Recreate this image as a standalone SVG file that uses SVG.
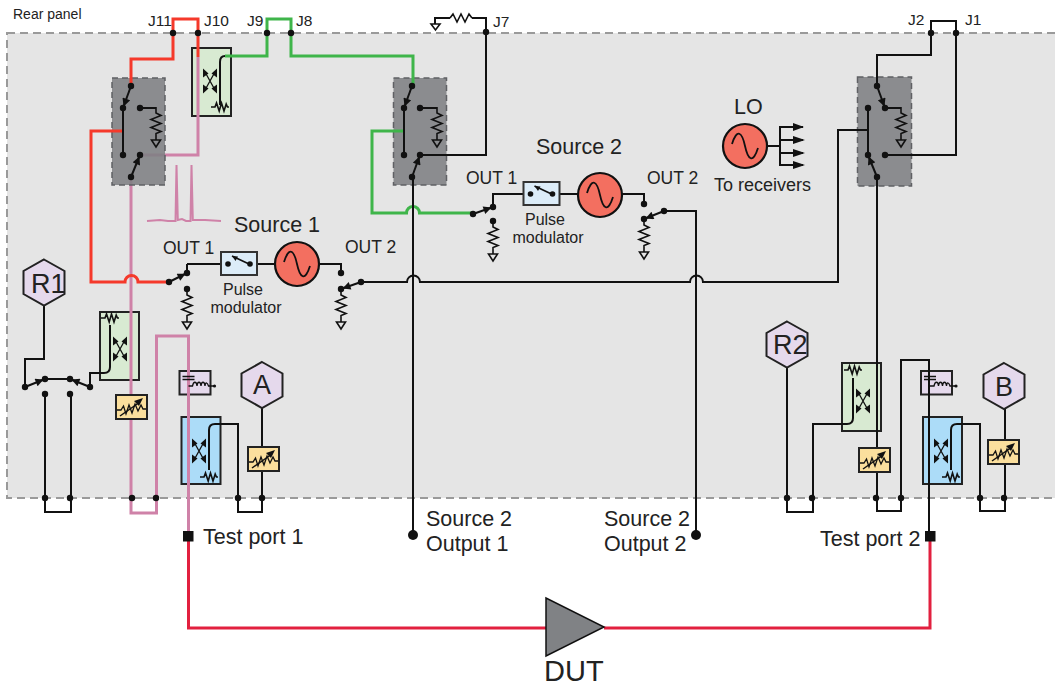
<svg xmlns="http://www.w3.org/2000/svg" width="1055" height="688" viewBox="0 0 1055 688">
<style>
text{font-family:"Liberation Sans",Arial,sans-serif;fill:#222}
.k,.r,.p,.g,.d{fill:none;stroke-linejoin:miter}
.k{stroke:#111;stroke-width:2}
.r{stroke:#f5392b;stroke-width:3}
.p{stroke:#cf82a8;stroke-width:3}
.g{stroke:#3fb54a;stroke-width:3}
.d{stroke:#e2203f;stroke-width:3}
.t{fill:none;stroke:#111;stroke-width:1.6}
.sw{fill:#7e7f83;fill-opacity:.88;stroke:#5f6064;stroke-width:1.5;stroke-dasharray:6 4}
.box{stroke:#222;stroke-width:2}
.hex{fill:#e5d9ec;stroke:#222;stroke-width:2}
.lab{font-size:17.5px}
.j{font-size:15.5px}
.big{font-size:21.5px}
.pm{font-size:16px;text-anchor:middle}
.port{font-size:21.5px}
.rx{font-size:27px}
</style>
<defs>
<circle id="dot" r="3.2" fill="#111"/>
<marker id="ah" viewBox="0 0 10 10" refX="12" refY="5" markerWidth="9" markerHeight="8" markerUnits="userSpaceOnUse" orient="auto"><path d="M0 0L10 5L0 10Z" fill="#111"/></marker>
<g id="resgnd"><path class="t" d="M0 0V6L5 8.500L-5 12.500L5 16.500L-5 20.500L5 24.500L0 26.500V33"/><path d="M-4.500 33H4.500L0 40Z" fill="none" stroke="#111" stroke-width="1.600"/></g>
<path id="resh" class="t" d="M-9 0H-5L-3.500 -4L-.8 4L1.500 -4L4 4L6.200 -3L7.500 0H9"/>
<g id="xc"><path d="M-5 -9L5 9M5 -9L-5 9" fill="none" stroke="#111" stroke-width="1.300"/><path d="M-7 -12.500L-1.500 -7.500L-7 -3.500ZM7 -12.500L1.500 -7.500L7 -3.500ZM-7 12.500L-1.500 7.500L-7 3.500ZM7 12.500L1.500 7.500L7 3.500Z" fill="#111"/></g>
<g id="src"><circle r="22" fill="#f36f60" stroke="#111" stroke-width="2.200"/><path d="M-13 -2C-8 -18 -3 -14 0 0S8 18 13 2" fill="none" stroke="#111" stroke-width="1.800"/></g>
<g id="atn"><rect width="31" height="24" fill="#fbdf9d" class="box"/><path d="M1 15H5L7.500 11L10 19L13 10L16 18L19 9L22 16L25 10L27 14H30" fill="none" stroke="#111" stroke-width="1.300"/><path d="M4 21L24 7" fill="none" stroke="#111" stroke-width="1.500"/><path d="M27 3L23 11L18 6Z" fill="#111"/></g>
<rect id="teebox" width="31" height="23.500" fill="#e5d9ec" class="box"/>
<g id="teeg"><path d="M3 5.500H15M3 8.500H15" fill="none" stroke="#111" stroke-width="1.500"/><path d="M9 15H13C14 10 17 10 17.500 15C18 10 21 10 21.500 15C22 10 25 10 25.500 15C26 10 28 12 29 15H35" fill="none" stroke="#111" stroke-width="1.300"/><circle cx="35" cy="15" r="1.600" fill="#111"/></g>
<g id="pmod"><rect width="36" height="23" fill="#dcecf8" stroke="#333" stroke-width="2"/><path d="M28 12L11 4" fill="none" stroke="#111" stroke-width="1.600"/><path d="M11 4L17 4.500L14.500 9Z" fill="#111"/><circle cx="7" cy="12" r="2.800" fill="#111"/><circle cx="29" cy="12" r="2.800" fill="#111"/></g>
<polygon id="hexs" class="hex" points="0,-23 20.500,-11.500 20.500,11.500 0,23 -20.500,11.500 -20.500,-11.500"/>
</defs>

<rect id="panel" x="7" y="33" width="1070" height="465" fill="#e5e5e5" stroke="#9a9a9a" stroke-width="2" stroke-dasharray="8 5"/>

<g id="couplers">
<g id="coupler-j10"><rect x="192" y="48" width="39" height="68" fill="#d8ead2" class="box"/><use href="#xc" x="210" y="81"/><use href="#resh" x="220" y="107"/></g>
<g id="coupler-r1"><rect x="100" y="312" width="39" height="68" fill="#d8ead2" class="box"/><use href="#xc" x="120" y="349"/><use href="#resh" x="110" y="318"/></g>
<g id="coupler-a"><rect x="181.500" y="417" width="39" height="67" fill="#acdcf8" class="box"/><use href="#xc" x="199" y="451"/><use href="#resh" x="209" y="477"/></g>
<g id="coupler-r2"><rect x="842" y="363" width="39" height="68" fill="#d8ead2" class="box"/><use href="#xc" x="863" y="401"/><use href="#resh" x="853" y="370"/></g>
<g id="coupler-b"><rect x="923" y="417" width="39" height="67" fill="#acdcf8" class="box"/><use href="#xc" x="941" y="451"/><use href="#resh" x="951" y="477"/></g>
</g>
<g id="bias-tee-boxes"><use href="#teebox" x="179.500" y="371"/><use href="#teebox" x="921" y="371"/></g>

<g id="connectors-under">
<path class="p" d="M198 57V155H140"/>
<path class="p" d="M131 177V513H156.500V336H188.500V536"/>
</g>

<g id="switch-boxes">
<rect id="switch-box-1" class="sw" x="112" y="78" width="53" height="107"/>
<rect id="switch-box-2" class="sw" x="393.500" y="78" width="53" height="107"/>
<rect id="switch-box-3" class="sw" x="857.500" y="77" width="54" height="109"/>
</g>

<g id="connectors">
<path class="r" d="M173 33V19H198V57"/>
<path class="r" d="M173 33V59H131V86"/>
<path class="r" d="M123 131H91V282H125a6.500 6.500 0 0 1 13 0H168"/>
<path class="g" d="M267 33V19H291V56H413V86"/>
<path class="g" d="M267 33V56H225"/>
<path class="g" d="M403 131H372V213H406.500a6.500 6.500 0 0 1 13 0H473"/>
<path class="k" d="M225 56Q220 56 220 62V105" stroke-width="1.800"/>
<path class="k" d="M110 325V367Q110 373 104 373H90V387" stroke-width="1.800"/>
<path class="k" d="M44 306V359H25V387"/>
<path class="k" d="M45 379H70"/>
<path class="k" d="M45 394V512H71V394"/>
<path class="k" d="M262 408V512H238V424H215Q209 424 209 430V470" stroke-width="1.800"/>
<path class="k" d="M486 32V155H420"/>
<path class="k" d="M486 32V18H472M450 18H435V24"/>
<path class="k" d="M413 177V535"/>
<path class="k" d="M187 264V273M187 264H221M257 264H275M319 264H341V273"/>
<path class="k" d="M493 207V194H523M560 194H578M622 194H644V204"/>
<path class="k" d="M664 211H696V535"/>
<path class="k" d="M360 282H407a6.500 6.500 0 0 1 13 0H690a6.500 6.500 0 0 1 13 0H838V130H868"/>
<path class="k" d="M931 33V21H956V155H885"/>
<path class="k" d="M931 33V55H877V86"/>
<path class="k" d="M877 177V511H901V360H929V536"/>
<path class="k" d="M787 367V512H813V424H847Q853 424 853 418V378"/>
<path class="k" d="M951 470V430Q951 424 957 424H980V511H1005V409"/>
<path class="k" d="M768 146H780M803 127H780V165H803M780 140H803M780 153H803"/>
<path class="d" d="M188.500 541V628H546M930 541V628H604"/>
<path d="M147 221L160 220L168 221H175.500L176.500 165L177.800 220L182 219L186 221H190.500L191.500 165L192.800 220H205L221 221" fill="none" stroke="#cf82a8" stroke-width="2"/>
</g>

<g id="switches">
<g id="switch-1"><path class="k" d="M131 86L123 108" marker-end="url(#ah)"/><path class="k" d="M123 108V155M140 108H156"/><use href="#resgnd" x="156" y="107"/><path class="k" d="M131 177L140 155" marker-end="url(#ah)"/><use href="#dot" x="131" y="86"/><use href="#dot" x="123" y="108"/><use href="#dot" x="140" y="108"/><use href="#dot" x="123" y="155"/><use href="#dot" x="140" y="155"/><use href="#dot" x="131" y="177"/></g>
<g id="switch-2"><path class="k" d="M412 86L404 108" marker-end="url(#ah)"/><path class="k" d="M404 108V155M420 108H437"/><use href="#resgnd" x="437" y="107"/><path class="k" d="M412 177L420 155" marker-end="url(#ah)"/><use href="#dot" x="412" y="86"/><use href="#dot" x="404" y="108"/><use href="#dot" x="420" y="108"/><use href="#dot" x="404" y="155"/><use href="#dot" x="420" y="155"/><use href="#dot" x="412" y="177"/></g>
<g id="switch-3"><path class="k" d="M877 86L885 108" marker-end="url(#ah)"/><path class="k" d="M868 108V155M885 108H901"/><use href="#resgnd" x="901" y="107"/><path class="k" d="M877 177L868 155" marker-end="url(#ah)"/><use href="#dot" x="877" y="86"/><use href="#dot" x="868" y="108"/><use href="#dot" x="885" y="108"/><use href="#dot" x="868" y="155"/><use href="#dot" x="885" y="155"/><use href="#dot" x="877" y="177"/></g>
<g id="switch-s1-out1"><path class="k" d="M169 282L187 273" marker-end="url(#ah)"/><use href="#dot" x="169" y="282"/><use href="#dot" x="187" y="273"/><use href="#dot" x="187" y="289"/><use href="#resgnd" x="187" y="289"/></g>
<g id="switch-s1-out2"><path class="k" d="M361 282L341 289" marker-end="url(#ah)"/><use href="#dot" x="341" y="273"/><use href="#dot" x="341" y="289"/><use href="#dot" x="361" y="282"/><use href="#resgnd" x="341" y="289"/></g>
<g id="switch-s2-out1"><path class="k" d="M473 214L493 207" marker-end="url(#ah)"/><use href="#dot" x="473" y="214"/><use href="#dot" x="493" y="207"/><use href="#dot" x="493" y="221"/><use href="#resgnd" x="493" y="221"/></g>
<g id="switch-s2-out2"><path class="k" d="M664 211L644 219" marker-end="url(#ah)"/><use href="#dot" x="644" y="204"/><use href="#dot" x="644" y="219"/><use href="#dot" x="664" y="211"/><use href="#resgnd" x="644" y="219"/></g>
<g id="switch-r1"><path class="k" d="M25 387L45 379" marker-end="url(#ah)"/><path class="k" d="M90 387L70 379" marker-end="url(#ah)"/><use href="#dot" x="25" y="387"/><use href="#dot" x="45" y="379"/><use href="#dot" x="70" y="379"/><use href="#dot" x="90" y="387"/><use href="#dot" x="45" y="394"/><use href="#dot" x="70" y="394"/></g>
</g>

<g id="j7-load"><path class="t" d="M450 18L453 14L457 22L461 14L465 22L469 14L472 18"/><path d="M431 24H440L435.500 30Z" fill="none" stroke="#111" stroke-width="1.600"/></g>

<g id="jacks">
<use href="#dot" x="173" y="33"/><use href="#dot" x="198" y="33"/><use href="#dot" x="267" y="33"/><use href="#dot" x="291" y="33"/><use href="#dot" x="486" y="32"/><use href="#dot" x="931" y="33"/><use href="#dot" x="956" y="33"/>
<use href="#dot" x="45" y="498"/><use href="#dot" x="70" y="498"/><use href="#dot" x="132" y="498"/><use href="#dot" x="156" y="498"/><use href="#dot" x="238" y="498"/><use href="#dot" x="262" y="498"/>
<use href="#dot" x="787" y="498"/><use href="#dot" x="812" y="498"/><use href="#dot" x="876" y="498"/><use href="#dot" x="901" y="498"/><use href="#dot" x="980" y="498"/><use href="#dot" x="1004" y="498"/>
<circle cx="413" cy="535" r="5" fill="#111"/><circle cx="696" cy="535" r="5" fill="#111"/>
<rect x="183" y="531" width="10.500" height="10.500" fill="#111"/><rect x="925" y="531" width="10.500" height="10.500" fill="#111"/>
</g>

<g id="source-1"><use href="#pmod" x="221" y="252"/><use href="#src" x="297" y="264"/><text class="big" x="234" y="232">Source 1</text><text class="lab" x="163" y="254">OUT 1</text><text class="lab" x="345" y="253">OUT 2</text><text class="pm" x="243" y="295">Pulse</text><text class="pm" x="246" y="313">modulator</text></g>
<g id="source-2"><use href="#pmod" x="523.500" y="182"/><use href="#src" x="600" y="195"/><text class="big" x="536" y="154">Source 2</text><text class="lab" x="466" y="184">OUT 1</text><text class="lab" x="647" y="184">OUT 2</text><text class="pm" x="545" y="225">Pulse</text><text class="pm" x="548" y="243">modulator</text></g>
<g id="lo"><use href="#src" x="745" y="146"/><text x="734" y="114" style="font-size:21.500px">LO</text><text class="lab" x="714" y="191" style="font-size:18px">To receivers</text><path d="M793 123L804 127L793 131ZM793 136L805 140L793 144ZM793 149L805 153L793 157ZM793 161L805 165L793 169Z" fill="#111"/></g>

<g id="receiver-r1"><use href="#hexs" x="44" y="282.500"/><text class="rx" x="31" y="293">R1</text></g>
<g id="receiver-a"><use href="#hexs" x="262" y="385"/><text class="rx" x="262" y="394" text-anchor="middle">A</text></g>
<g id="receiver-r2"><use href="#hexs" x="787" y="344.500"/><text class="rx" x="773" y="354">R2</text></g>
<g id="receiver-b"><use href="#hexs" x="1004" y="386"/><text class="rx" x="1004" y="396" text-anchor="middle">B</text></g>

<g id="attenuators"><use href="#atn" x="116" y="395"/><use href="#atn" x="248" y="447"/><use href="#atn" x="859" y="448"/><use href="#atn" x="988" y="440"/></g>
<g id="bias-tee-glyphs"><path class="k" d="M929 371V395"/><use href="#teeg" x="179.500" y="371"/><use href="#teeg" x="921" y="371"/></g>

<g id="dut"><polygon points="546,598 546,656 604,627" fill="#808285" stroke="#111" stroke-width="1.500"/><text x="544" y="681" style="font-size:29px">DUT</text></g>

<g id="labels">
<text x="13" y="19" style="font-size:14px">Rear panel</text>
<text class="j" x="148" y="26">J11</text><text class="j" x="204" y="26">J10</text><text class="j" x="247" y="26">J9</text><text class="j" x="296" y="26">J8</text><text class="j" x="493" y="27">J7</text><text class="j" x="908" y="25">J2</text><text class="j" x="965" y="25">J1</text>
<text class="port" x="203" y="544">Test port 1</text><text class="port" x="820" y="546">Test port 2</text>
<text class="port" x="426" y="526">Source 2</text><text class="port" x="426" y="551">Output 1</text>
<text class="port" x="604" y="526">Source 2</text><text class="port" x="604" y="551">Output 2</text>
</g>
</svg>
